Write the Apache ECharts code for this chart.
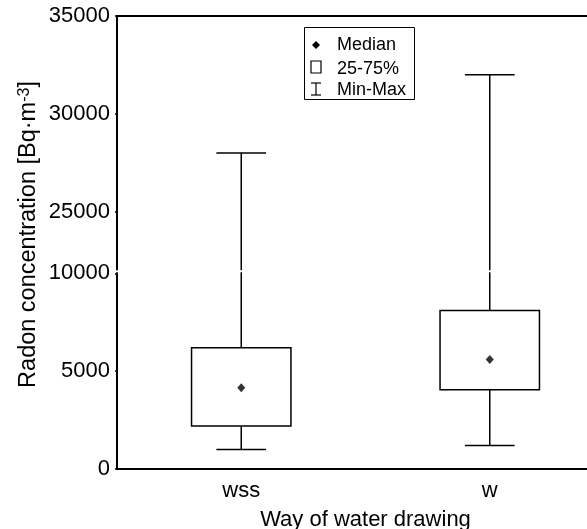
<!DOCTYPE html>
<html>
<head>
<meta charset="utf-8">
<script src="https://cdn.jsdelivr.net/npm/echarts@6/dist/echarts.min.js"></script>
<style>
html,body{margin:0;padding:0;background:#fff;}
#chart{width:587px;height:529px;}
</style>
</head>
<body>
<div id="chart"></div>
<script>
// ---- data ----
const categories = ['wss', 'w'];
const minVals    = [1000, 1200];
const q1Vals     = [2200, 4050];
const medianVals = [4150, 5600];
const q3Vals     = [6200, 8100];
const maxVals    = [28000, 32000];
const yTicks     = [0, 5000, 10000, 25000, 30000, 35000];
const breakStart = 10000;
const breakEnd   = 25000;

const FONT = '"Liberation Sans", Arial, sans-serif';
const boxData = categories.map((c, i) => [i, minVals[i], q1Vals[i], medianVals[i], q3Vals[i], maxVals[i]]);
const medData = categories.map((c, i) => [i, medianVals[i]]);

function renderBox(params, api) {
  const x = api.value(0);
  const pMin = api.coord([x, api.value(1)]);
  const pQ1 = api.coord([x, api.value(2)]);
  const pQ3 = api.coord([x, api.value(4)]);
  const pMax = api.coord([x, api.value(5)]);
  const band = api.size([1, 0])[0];
  const bw = band * 0.4, cw = band * 0.2;
  const cx = pMin[0];
  const ls = { stroke: '#000', lineWidth: 1.5, fill: null };
  return {
    type: 'group',
    children: [
      { type: 'line', shape: { x1: cx, y1: pMax[1], x2: cx, y2: pQ3[1] }, style: ls },
      { type: 'line', shape: { x1: cx - cw / 2, y1: pMax[1], x2: cx + cw / 2, y2: pMax[1] }, style: ls },
      { type: 'line', shape: { x1: cx, y1: pQ1[1], x2: cx, y2: pMin[1] }, style: ls },
      { type: 'line', shape: { x1: cx - cw / 2, y1: pMin[1], x2: cx + cw / 2, y2: pMin[1] }, style: ls },
      { type: 'rect', shape: { x: cx - bw / 2, y: pQ3[1], width: bw, height: pQ1[1] - pQ3[1] },
        style: { stroke: '#000', lineWidth: 1.5, fill: '#fff' } }
    ]
  };
}

const chart = echarts.init(document.getElementById('chart'), null, { renderer: 'canvas' });
const gridLeft = 117;
const option = {
  animation: false,
  backgroundColor: '#fff',
  textStyle: { fontFamily: FONT, color: '#000' },
  grid: { left: gridLeft, top: 16, width: 497, height: 453, containLabel: false, outerBoundsMode: 'none' },
  xAxis: [
    {
      type: 'category', data: categories, position: 'bottom',
      axisLine: { lineStyle: { color: '#000', width: 2 } },
      axisTick: { inside: true, length: 3, alignWithLabel: true, lineStyle: { color: '#000', width: 1.5 } },
      axisLabel: { fontFamily: FONT, fontSize: 22, color: '#000', margin: 11 },
      name: 'Way of water drawing', nameLocation: 'middle', nameGap: 40,
      nameTextStyle: { fontFamily: FONT, fontSize: 22, color: '#000' },
      splitLine: { show: false }
    },
    {
      type: 'category', data: categories, position: 'top',
      axisLine: { lineStyle: { color: '#000', width: 2 } },
      axisTick: { inside: true, length: 3, alignWithLabel: true, lineStyle: { color: '#000', width: 1.5 } },
      axisLabel: { show: false },
      splitLine: { show: false }
    }
  ],
  yAxis: {
    type: 'value', min: 0, max: 35000, interval: 5000,
    breaks: [{ start: breakStart, end: breakEnd, gap: '13.6%' }],
    breakArea: { show: false },
    axisLine: { show: true, lineStyle: { color: '#000', width: 2 } },
    axisTick: { show: true, length: 2, lineStyle: { color: '#000', width: 1.5 } },
    axisLabel: {
      fontFamily: FONT, fontSize: 22, color: '#000', margin: 7,
      formatter: v => (yTicks.indexOf(v) >= 0 ? String(v) : '')
    },
    splitLine: { show: false },
    name: 'Radon concentration [Bq·m{sup|-3}]',
    nameLocation: 'middle', nameRotate: 90, nameGap: 76, nameMoveOverlap: false,
    nameTextStyle: {
      fontFamily: FONT, fontSize: 23.5, color: '#000', padding: [0, 0, 0, 16],
      rich: { sup: { fontFamily: FONT, fontSize: 16, color: '#000', verticalAlign: 'top', padding: [0, 0, 8, 0] } }
    }
  },
  series: [
    {
      type: 'custom', name: '25-75%', renderItem: renderBox, data: boxData,
      encode: { x: 0, y: [1, 2, 3, 4, 5] }, z: 2, clip: false
    },
    {
      type: 'scatter', name: 'Median', data: medData, symbol: 'diamond', symbolSize: [8, 9],
      itemStyle: { color: '#000' }, z: 5
    }
  ]
};
chart.setOption(option);

// axis line through the break region and a small white gap at the break value, via the axis scale
const pyLow = chart.convertToPixel({ yAxisIndex: 0 }, breakStart);
const pyHigh = chart.convertToPixel({ yAxisIndex: 0 }, breakEnd);
const legendStroke = { stroke: '#000', lineWidth: 1.2, fill: null };
chart.setOption({
  graphic: [
    { type: 'line', z: 99, silent: true, shape: { x1: gridLeft, y1: pyHigh, x2: gridLeft, y2: pyLow }, style: { stroke: '#000', lineWidth: 2 } },
    { type: 'rect', z: 100, silent: true, shape: { x: 110, y: pyLow - 3, width: 480, height: 2 }, style: { fill: '#fff' } },
    { type: 'rect', z: 100, shape: { x: 304.5, y: 27.5, width: 110, height: 72 }, style: { fill: '#fff', stroke: '#000', lineWidth: 1 } },
    { type: 'polygon', z: 101, shape: { points: [[316, 41], [320, 45], [316, 49], [312, 45]] }, style: { fill: '#000' } },
    { type: 'text', z: 101, style: { x: 337, y: 45, text: 'Median', font: '18px ' + FONT, fill: '#000', verticalAlign: 'middle' } },
    { type: 'rect', z: 101, shape: { x: 311, y: 61, width: 10, height: 12 }, style: legendStroke },
    { type: 'text', z: 101, style: { x: 337, y: 69, text: '25-75%', font: '18px ' + FONT, fill: '#000', verticalAlign: 'middle' } },
    { type: 'line', z: 101, shape: { x1: 311, y1: 83, x2: 321, y2: 83 }, style: legendStroke },
    { type: 'line', z: 101, shape: { x1: 316, y1: 83, x2: 316, y2: 95 }, style: legendStroke },
    { type: 'line', z: 101, shape: { x1: 311, y1: 95, x2: 321, y2: 95 }, style: legendStroke },
    { type: 'text', z: 101, style: { x: 337, y: 90, text: 'Min-Max', font: '18px ' + FONT, fill: '#000', verticalAlign: 'middle' } }
  ]
});
</script>
</body>
</html>
